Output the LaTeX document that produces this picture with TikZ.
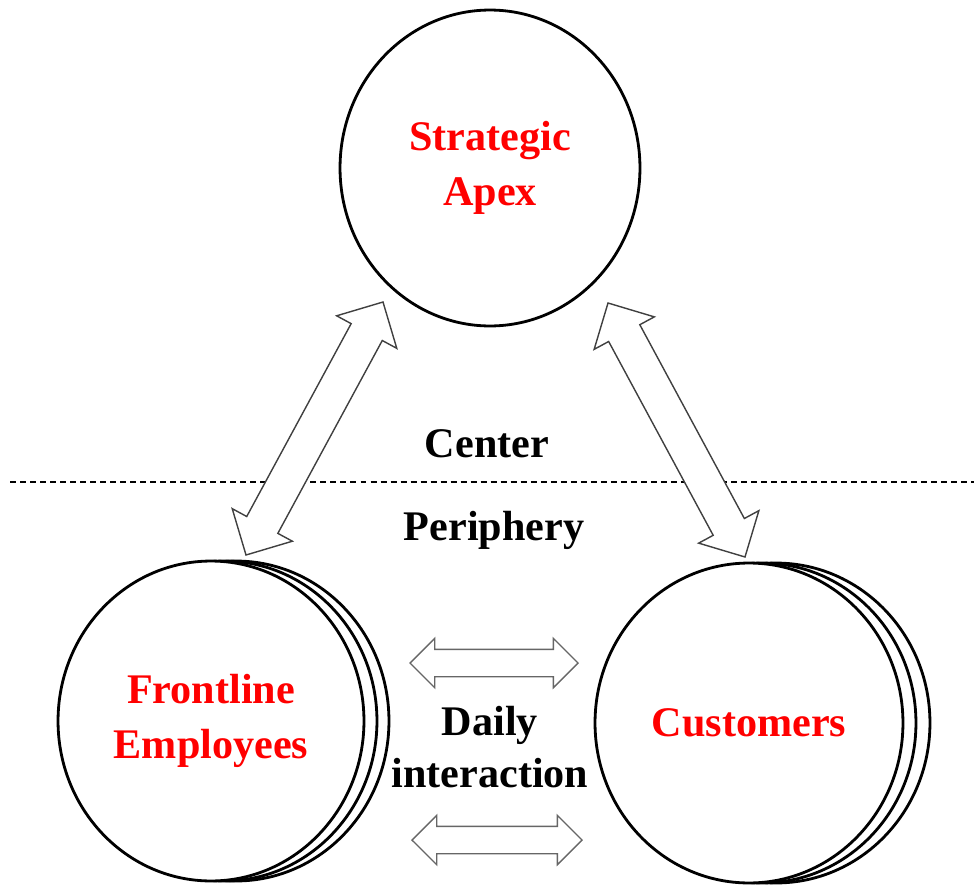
\documentclass[tikz,border=0pt]{standalone}
\usepackage{fontspec}
\setmainfont{Liberation Serif}
\usetikzlibrary{shapes.geometric,shapes.arrows,positioning,calc}

\tikzset{
  unit/.style={ellipse, draw, line width=1.6pt, fill=white, inner sep=0pt,
    minimum width=6.12cm, minimum height=6.4cm, text=red, align=center,
    font=\fontsize{24}{31}\selectfont\bfseries},
  tag/.style={font=\fontsize{24}{30}\selectfont\bfseries, align=center, inner sep=0pt},
  bigarrow/.style={double arrow, draw=black!75, line width=0.8pt, fill=white,
    inner xsep=0pt, inner ysep=0.34cm, minimum width=1.34cm,
    double arrow head extend=0.33cm},
  smallarrow/.style={bigarrow, draw=black!60, inner ysep=0.26cm,
    minimum width=0.96cm, double arrow head extend=0.22cm},
}

\begin{document}
\begin{tikzpicture}[x=0.02cm, y=-0.02cm]
  \useasboundingbox (0,0) rectangle (974,886);

  % centre / periphery divide
  \draw[line width=0.8pt, dash pattern=on 3.4pt off 2.3pt] (10,482) -- (974,482);

  \node[unit, minimum width=6cm, minimum height=6.32cm] (apex) at (490,168) {Strategic\\Apex};

  \node[unit] (front3) at (236,721) {};
  \node[unit] (front2) at (224,721) {};
  \node[unit] (front) at (211,721) {Frontline\\Employees};

  \node[unit, minimum width=6.16cm] (cust3) at (776,723) {};
  \node[unit, minimum width=6.16cm] (cust2) at (762,723) {};
  \node[unit, minimum width=6.16cm] (cust) at (749,723) {Customers};

  \node[tag] (center) at (487,444) {Center};
  \node[tag] (periphery) at (494,530) {Periphery};
  \node[tag] (daily) at (490,747) {Daily\\interaction};

  % arrow ends
  \coordinate (l1) at (383,302);
  \coordinate (l2) at (246,555);
  \coordinate (r1) at (608,303);
  \coordinate (r2) at (745,557);
  \coordinate (t1) at (410,663);
  \coordinate (t2) at (578,663);
  \coordinate (b1) at (412,840);
  \coordinate (b2) at (582,840);

  \path let \p1=($(l1)-(l2)$), \n1={veclen(\x1,\y1)} in
    (l2) -- node[bigarrow, sloped, minimum height=\n1] {} (l1);
  \path let \p1=($(r1)-(r2)$), \n1={veclen(\x1,\y1)} in
    (r2) -- node[bigarrow, sloped, minimum height=\n1] {} (r1);
  \path let \p1=($(t2)-(t1)$), \n1={veclen(\x1,\y1)} in
    (t1) -- node[smallarrow, sloped, minimum height=\n1] {} (t2);
  \path let \p1=($(b2)-(b1)$), \n1={veclen(\x1,\y1)} in
    (b1) -- node[smallarrow, sloped, minimum height=\n1] {} (b2);
\end{tikzpicture}
\end{document}
